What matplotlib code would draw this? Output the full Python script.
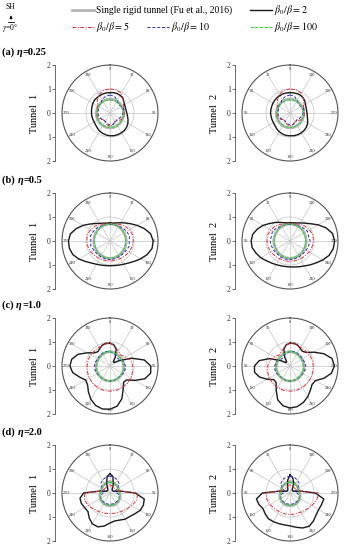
import numpy as np
import matplotlib.pyplot as plt

plt.rcParams['font.family'] = ['Liberation Serif', 'DejaVu Serif']
plt.rcParams['mathtext.fontset'] = 'stix'

W, H = 352, 550

# polar angles of the readings (deg), as labelled on each panel
angles15 = np.arange(0, 360, 15)   # gray, red, blue, green curves
angles10 = np.arange(0, 360, 10)   # black curves

# single rigid tunnel (same for both tunnels)
gray_a = [0.58, 0.58, 0.58, 0.57, 0.57, 0.57, 0.57, 0.58, 0.59, 0.6, 0.61, 0.62,
          0.62, 0.62, 0.61, 0.6, 0.59, 0.58, 0.57, 0.57, 0.57, 0.57, 0.58, 0.58]
gray_b = [0.72, 0.71, 0.7, 0.69, 0.68, 0.68, 0.68, 0.68, 0.69, 0.7, 0.71, 0.72,
          0.73, 0.72, 0.71, 0.7, 0.69, 0.68, 0.68, 0.68, 0.68, 0.69, 0.7, 0.71]
gray_c = [0.6, 0.59, 0.58, 0.57, 0.57, 0.57, 0.58, 0.59, 0.6, 0.61, 0.62, 0.63,
          0.63, 0.63, 0.62, 0.61, 0.6, 0.59, 0.58, 0.57, 0.57, 0.57, 0.58, 0.59]
gray_d = [0.46, 0.46, 0.44, 0.42, 0.4, 0.4, 0.41, 0.44, 0.47, 0.5, 0.52, 0.53,
          0.53, 0.53, 0.52, 0.5, 0.47, 0.44, 0.41, 0.4, 0.4, 0.42, 0.44, 0.46]

# (a) eta = 0.25
black_a1 = [0.85, 0.86, 0.86, 0.85, 0.82, 0.75, 0.7, 0.68, 0.68, 0.7, 0.74, 0.8,
            0.86, 0.91, 0.94, 0.95, 0.96, 0.96, 0.95, 0.93, 0.9, 0.87, 0.82, 0.78,
            0.76, 0.76, 0.77, 0.77, 0.78, 0.8, 0.82, 0.84, 0.84, 0.84, 0.85, 0.85]
red_a1 = [1.0, 1.0, 0.95, 0.8, 0.65, 0.6, 0.6, 0.6, 0.55, 0.45, 0.4, 0.5,
          0.55, 0.5, 0.4, 0.4, 0.5, 0.55, 0.55, 0.55, 0.6, 0.75, 0.9, 0.98]
blue_a1 = [0.75, 0.72, 0.6, 0.5, 0.55, 0.6, 0.55, 0.5, 0.45, 0.4, 0.45, 0.5,
           0.5, 0.45, 0.4, 0.4, 0.45, 0.5, 0.5, 0.5, 0.55, 0.55, 0.65, 0.72]
green_a1 = [0.55, 0.55, 0.55, 0.54, 0.54, 0.54, 0.55, 0.56, 0.57, 0.58, 0.59, 0.6,
            0.6, 0.6, 0.59, 0.58, 0.57, 0.56, 0.55, 0.54, 0.54, 0.54, 0.55, 0.55]
black_a2 = [0.85, 0.85, 0.85, 0.84, 0.84, 0.83, 0.82, 0.81, 0.81, 0.81, 0.8, 0.8,
            0.8, 0.82, 0.86, 0.9, 0.93, 0.95, 0.95, 0.96, 0.96, 0.95, 0.93, 0.9,
            0.85, 0.78, 0.73, 0.71, 0.7, 0.71, 0.74, 0.8, 0.84, 0.86, 0.86, 0.85]
red_a2 = [1.0, 0.98, 0.9, 0.75, 0.6, 0.55, 0.55, 0.55, 0.5, 0.4, 0.4, 0.5,
          0.55, 0.5, 0.4, 0.45, 0.55, 0.6, 0.6, 0.6, 0.65, 0.8, 0.95, 1.0]
blue_a2 = [0.75, 0.72, 0.65, 0.55, 0.55, 0.5, 0.5, 0.5, 0.45, 0.4, 0.4, 0.45,
           0.5, 0.5, 0.45, 0.4, 0.45, 0.5, 0.55, 0.6, 0.55, 0.5, 0.6, 0.72]
green_a2 = [0.55, 0.55, 0.54, 0.54, 0.54, 0.55, 0.55, 0.56, 0.57, 0.58, 0.59, 0.6,
            0.6, 0.6, 0.59, 0.58, 0.57, 0.56, 0.55, 0.54, 0.54, 0.55, 0.55, 0.55]

# (b) eta = 0.5
black_b1 = [0.75, 0.76, 0.8, 0.88, 0.98, 1.12, 1.3, 1.52, 1.72, 1.8, 1.78, 1.65,
            1.48, 1.32, 1.2, 1.12, 1.07, 1.04, 1.03, 1.04, 1.07, 1.12, 1.2, 1.33,
            1.5, 1.65, 1.72, 1.73, 1.68, 1.5, 1.3, 1.1, 0.95, 0.85, 0.79, 0.76]
red_b1 = [0.72, 0.74, 0.8, 0.88, 0.94, 0.97, 0.97, 0.95, 0.92, 0.88, 0.85, 0.84,
          0.84, 0.84, 0.85, 0.88, 0.92, 0.95, 0.97, 0.97, 0.94, 0.88, 0.8, 0.74]
blue_b1 = [0.7, 0.7, 0.72, 0.77, 0.8, 0.84, 0.8, 0.83, 0.78, 0.76, 0.76, 0.77,
           0.78, 0.77, 0.76, 0.76, 0.78, 0.83, 0.8, 0.84, 0.8, 0.77, 0.72, 0.7]
green_b1 = [0.72, 0.71, 0.7, 0.68, 0.67, 0.66, 0.66, 0.66, 0.67, 0.68, 0.7, 0.71,
            0.72, 0.71, 0.7, 0.68, 0.67, 0.66, 0.66, 0.66, 0.67, 0.68, 0.7, 0.71]
black_b2 = [0.76, 0.77, 0.81, 0.9, 1.0, 1.13, 1.3, 1.45, 1.58, 1.62, 1.6, 1.5,
            1.4, 1.28, 1.2, 1.14, 1.1, 1.08, 1.08, 1.1, 1.14, 1.2, 1.3, 1.42,
            1.58, 1.74, 1.83, 1.86, 1.8, 1.6, 1.35, 1.12, 0.97, 0.87, 0.8, 0.77]
red_b2 = [0.72, 0.74, 0.8, 0.88, 0.93, 0.96, 0.96, 0.95, 0.92, 0.88, 0.86, 0.85,
          0.85, 0.85, 0.86, 0.88, 0.92, 0.95, 0.98, 0.98, 0.94, 0.88, 0.8, 0.74]
blue_b2 = [0.7, 0.7, 0.72, 0.77, 0.84, 0.8, 0.83, 0.8, 0.78, 0.76, 0.77, 0.78,
           0.78, 0.77, 0.76, 0.76, 0.78, 0.8, 0.84, 0.8, 0.83, 0.77, 0.72, 0.7]
green_b2 = [0.72, 0.71, 0.7, 0.68, 0.67, 0.66, 0.66, 0.66, 0.67, 0.68, 0.7, 0.71,
            0.72, 0.71, 0.7, 0.68, 0.67, 0.66, 0.66, 0.66, 0.67, 0.68, 0.7, 0.71]

# (c) eta = 1.0
black_c1 = [0.95, 0.9, 0.75, 0.45, 0.22, 0.22, 0.45, 0.95, 1.45, 1.7, 1.72, 1.55,
            1.2, 0.9, 0.88, 1.1, 1.45, 1.7, 1.8, 1.82, 1.75, 1.6, 1.4, 1.22,
            1.17, 1.35, 1.58, 1.67, 1.62, 1.42, 1.1, 0.85, 0.78, 0.85, 0.93, 0.96]
red_c1 = [0.95, 0.85, 0.7, 0.65, 0.75, 0.9, 0.95, 0.97, 1.0, 1.02, 1.04, 1.05,
          1.05, 1.05, 1.04, 1.02, 1.0, 0.97, 0.95, 0.95, 0.93, 0.9, 0.9, 0.93]
blue_c1 = [0.6, 0.55, 0.5, 0.45, 0.5, 0.6, 0.65, 0.65, 0.63, 0.6, 0.6, 0.62,
           0.63, 0.62, 0.6, 0.6, 0.62, 0.65, 0.65, 0.63, 0.6, 0.6, 0.62, 0.62]
green_c1 = [0.6, 0.58, 0.56, 0.55, 0.55, 0.55, 0.56, 0.57, 0.58, 0.6, 0.61, 0.62,
            0.62, 0.62, 0.61, 0.6, 0.58, 0.57, 0.56, 0.55, 0.55, 0.56, 0.58, 0.6]
black_c2 = [0.95, 0.9, 0.75, 0.45, 0.22, 0.22, 0.45, 0.9, 1.3, 1.48, 1.5, 1.35,
            1.1, 0.88, 0.9, 1.15, 1.5, 1.68, 1.75, 1.72, 1.62, 1.48, 1.32, 1.2,
            1.22, 1.5, 1.75, 1.85, 1.78, 1.5, 1.15, 0.88, 0.8, 0.85, 0.93, 0.96]
red_c2 = [0.95, 0.85, 0.7, 0.65, 0.75, 0.88, 0.93, 0.96, 1.0, 1.02, 1.04, 1.05,
          1.05, 1.05, 1.04, 1.02, 1.0, 0.98, 0.97, 0.96, 0.94, 0.9, 0.9, 0.93]
blue_c2 = [0.6, 0.55, 0.5, 0.45, 0.5, 0.6, 0.64, 0.65, 0.63, 0.6, 0.6, 0.62,
           0.63, 0.62, 0.6, 0.6, 0.62, 0.65, 0.66, 0.63, 0.6, 0.6, 0.62, 0.62]
green_c2 = [0.6, 0.58, 0.56, 0.55, 0.55, 0.55, 0.56, 0.57, 0.58, 0.6, 0.61, 0.62,
            0.62, 0.62, 0.61, 0.6, 0.58, 0.57, 0.56, 0.55, 0.55, 0.56, 0.58, 0.6]

# (d) eta = 2.0
black_d1 = [0.8, 0.7, 0.4, 0.18, 0.15, 0.15, 0.15, 0.2, 0.45, 1.05, 1.45, 1.48,
            1.45, 1.35, 1.28, 1.26, 1.2, 1.18, 1.25, 1.4, 1.5, 1.48, 1.35, 1.2,
            1.22, 1.27, 1.27, 1.1, 0.45, 0.2, 0.15, 0.15, 0.15, 0.18, 0.4, 0.7]
red_d1 = [0.35, 0.3, 0.28, 0.28, 0.3, 0.35, 1.15, 1.15, 1.05, 0.95, 0.9, 0.87,
          0.86, 0.87, 0.9, 0.95, 1.05, 1.1, 1.05, 0.35, 0.3, 0.28, 0.28, 0.3]
blue_d1 = [0.7, 0.68, 0.62, 0.55, 0.35, 0.2, 0.3, 0.4, 0.45, 0.45, 0.46, 0.47,
           0.47, 0.47, 0.46, 0.45, 0.45, 0.4, 0.3, 0.2, 0.35, 0.55, 0.62, 0.68]
green_d1 = [0.45, 0.45, 0.43, 0.4, 0.38, 0.38, 0.4, 0.43, 0.46, 0.49, 0.51, 0.52,
            0.52, 0.52, 0.51, 0.49, 0.46, 0.43, 0.4, 0.38, 0.38, 0.4, 0.43, 0.45]
black_d2 = [0.75, 0.55, 0.3, 0.18, 0.15, 0.15, 0.15, 0.2, 0.45, 1.15, 1.42, 1.38,
            1.3, 1.35, 1.4, 1.38, 1.36, 1.35, 1.37, 1.45, 1.55, 1.6, 1.52, 1.42,
            1.38, 1.4, 1.43, 1.05, 0.45, 0.2, 0.15, 0.15, 0.15, 0.2, 0.45, 0.65]
red_d2 = [0.35, 0.3, 0.28, 0.28, 0.3, 0.35, 1.0, 1.0, 0.95, 0.92, 0.9, 0.9,
          0.9, 0.9, 0.92, 0.97, 1.05, 1.15, 1.2, 0.35, 0.3, 0.28, 0.28, 0.3]
blue_d2 = [0.7, 0.68, 0.62, 0.55, 0.35, 0.2, 0.3, 0.4, 0.45, 0.45, 0.46, 0.47,
           0.47, 0.47, 0.46, 0.45, 0.45, 0.4, 0.3, 0.2, 0.35, 0.55, 0.62, 0.68]
green_d2 = [0.45, 0.45, 0.43, 0.4, 0.38, 0.38, 0.4, 0.43, 0.46, 0.49, 0.51, 0.52,
            0.52, 0.52, 0.51, 0.49, 0.46, 0.43, 0.4, 0.38, 0.38, 0.4, 0.43, 0.45]

panel_tags = ['(a) ', '(b) ', '(c) ', '(d) ']
panel_eta = ['=0.25', '=0.5', '=1.0', '=2.0']
tunnel1 = [[gray_a, black_a1, red_a1, blue_a1, green_a1],
           [gray_b, black_b1, red_b1, blue_b1, green_b1],
           [gray_c, black_c1, red_c1, blue_c1, green_c1],
           [gray_d, black_d1, red_d1, blue_d1, green_d1]]
tunnel2 = [[gray_a, black_a2, red_a2, blue_a2, green_a2],
           [gray_b, black_b2, red_b2, blue_b2, green_b2],
           [gray_c, black_c2, red_c2, blue_c2, green_c2],
           [gray_d, black_d2, red_d2, blue_d2, green_d2]]
curve_angles = [angles15, angles10, angles15, angles15, angles15]

styles = [dict(color='#b4b4b4', lw=2.0, ls='-'),
          dict(color='#1a1a1a', lw=1.0, ls='-'),
          dict(color='#e0303a', lw=0.7, ls=(0, (4, 1.5, 1, 1.5))),
          dict(color='#2a2ab8', lw=0.7, ls=(0, (3, 2))),
          dict(color='#3ccf3c', lw=0.8, ls=(0, (3, 1.2)))]
labels = ['Single rigid tunnel (Fu et al., 2016)', r'$\beta_0/\beta = 2$',
          r'$\beta_0/\beta = 5$', r'$\beta_0/\beta = 10$', r'$\beta_0/\beta = 100$']

fig = plt.figure(figsize=(W / 100, H / 100), dpi=100)

# overlay in pixel coordinates for legend and panel titles
ov = fig.add_axes([0, 0, 1, 1])
ov.set_xlim(0, W)
ov.set_ylim(H, 0)
ov.axis('off')

leg_pos = [(72, 10), (250, 10), (72, 27), (147, 27), (250, 27)]
for (x, y), st, lab in zip(leg_pos, styles, labels):
    ov.plot([x, x + 22], [y, y], **st)
    ov.text(x + 24, y, lab, fontsize=6.9 if lab[0] == 'S' else 7.2,
            va='center', ha='left')

ov.text(6, 7, 'SH', fontsize=5.5, va='center')
ov.annotate('', xy=(11, 12.5), xytext=(11, 22),
            arrowprops=dict(arrowstyle='-|>', lw=0.6, color='k', mutation_scale=4))
ov.plot([8, 14], [22, 22], color='k', lw=0.6)
ov.text(2, 27.5, r'$\gamma$=0°', fontsize=5.5, va='center')

centers_y = [113, 241, 366, 493]
centers_x = [110, 290]
R = 48


def draw_polar(cx, cy, direction, curves):
    ax = fig.add_axes([(cx - R) / W, 1 - (cy + R) / H, 2 * R / W, 2 * R / H],
                      projection='polar')
    ax.set_theta_zero_location('N')
    ax.set_theta_direction(direction)
    ax.set_ylim(0, 2)
    ax.set_yticks([1])
    ax.set_yticklabels([])
    ax.set_xticks(np.deg2rad(np.arange(0, 360, 30)))
    ax.set_xticklabels([])
    ax.tick_params(length=0)
    ax.grid(color='#c4c4c4', lw=0.5)
    ax.spines['polar'].set_color('#555555')
    ax.spines['polar'].set_linewidth(0.8)
    for a in range(0, 360, 30):
        ax.text(np.deg2rad(a), 1.84, str(a), fontsize=3.2, ha='center',
                va='center', color='#333333')
    for r, ang, st in zip(curves, curve_angles, styles):
        th = np.deg2rad(np.append(ang, ang[0]))
        ax.plot(th, np.append(r, r[0]), **st)
    return ax


def draw_scale(x, cy, name):
    sx = fig.add_axes([x / W, 1 - (cy + R) / H, 1 / W, 2 * R / H])
    sx.set_ylim(-2, 2)
    sx.set_xticks([])
    sx.set_yticks([-2, -1, 0, 1, 2])
    sx.set_yticklabels(['2', '1', '0', '1', '2'], fontsize=5.5)
    sx.tick_params(axis='y', length=2, width=0.5, pad=1, colors='#333333')
    for s in ['top', 'right', 'bottom']:
        sx.spines[s].set_visible(False)
    sx.spines['left'].set_color('#555555')
    sx.spines['left'].set_linewidth(0.6)
    sx.patch.set_alpha(0)
    sx.set_ylabel(name, fontsize=7.5, labelpad=6)


for i in range(4):
    cy = centers_y[i]
    t1 = ov.text(2, cy - 61, panel_tags[i], fontsize=7.5, fontweight='bold',
                 va='center')
    t2 = ov.annotate('η', xy=(1, 0), xycoords=t1, va='bottom', ha='left',
                     fontsize=7.5, fontweight='bold', fontstyle='italic')
    ov.annotate(panel_eta[i], xy=(1, 0), xycoords=t2, va='bottom', ha='left',
                fontsize=7.5, fontweight='bold')
    draw_polar(centers_x[0], cy, -1, tunnel1[i])
    draw_polar(centers_x[1], cy, 1, tunnel2[i])
    draw_scale(55, cy, 'Tunnel  1')
    draw_scale(235, cy, 'Tunnel  2')

fig.savefig('out.png', dpi=100)
